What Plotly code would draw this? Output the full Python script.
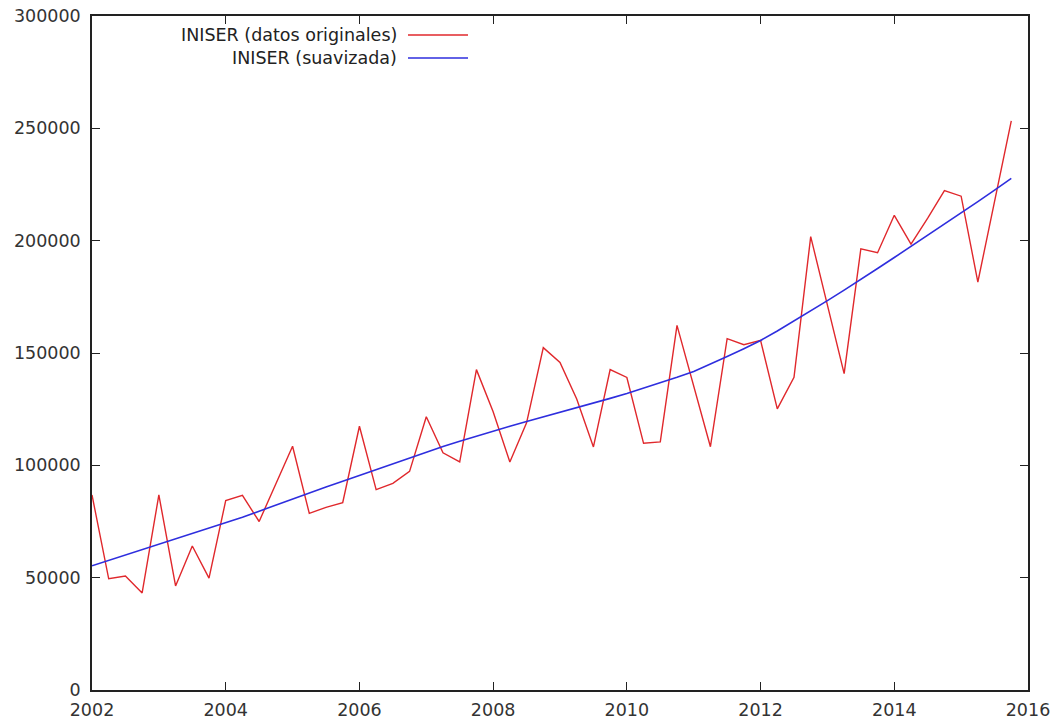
import plotly.graph_objects as go

# Quarterly periods 2002Q1 .. 2015Q4 (decimal years)
years = list(range(2002, 2016))
quarters = [0.0, 0.25, 0.5, 0.75]
periods = [y + q for y in years for q in quarters]

iniser_original = [
    86800, 49500, 50700, 43200,
    86800, 46300, 64100, 49800,
    84300, 86600, 75000, 92000,
    108500, 78600, 81300, 83400,
    117400, 89200, 92000, 97300,
    121600, 105600, 101500, 142600,
    123800, 101500, 118900, 152400,
    145800, 129500, 108200, 142600,
    139100, 109800, 110400, 162300,
    135500, 108300, 156400, 153700,
    155600, 125100, 139200, 201800,
    171300, 140800, 196400, 194600,
    211300, 198500, 210000, 222300,
    219800, 181600, 217500, 253300,
]

iniser_suavizada = [
    55300, 57700, 60100, 62500,
    64800, 67100, 69500, 71900,
    74200, 76900, 79600, 82300,
    85300, 87900, 90400, 92900,
    95500, 98100, 100800, 103400,
    106000, 108400, 110700, 113000,
    115300, 117400, 119500, 121500,
    123500, 125600, 127700, 129800,
    132000, 134300, 136700, 139200,
    141800, 145000, 148400, 151900,
    155600, 159800, 164200, 168700,
    173300, 178000, 182700, 187600,
    192500, 197400, 202300, 207300,
    212300, 217400, 222500, 227700,
]

series_names = ["INISER (datos originales)", "INISER (suavizada)"]
series_colors = ["#e0282c", "#2e2ede"]

x_ticks = [2002, 2004, 2006, 2008, 2010, 2012, 2014, 2016]
y_ticks = [0, 50000, 100000, 150000, 200000, 250000, 300000]

fig = go.Figure()
fig.add_trace(go.Scatter(x=periods, y=iniser_original, mode="lines",
                         name=series_names[0],
                         line=dict(color=series_colors[0], width=1.4)))
fig.add_trace(go.Scatter(x=periods, y=iniser_suavizada, mode="lines",
                         name=series_names[1],
                         line=dict(color=series_colors[1], width=1.6)))

axis_common = dict(
    showgrid=False, zeroline=False, showline=True, linecolor="#222",
    linewidth=1.5, mirror="ticks", ticks="inside", ticklen=8,
    tickwidth=1.2, tickcolor="#222", automargin=False,
    tickfont=dict(family="DejaVu Sans", size=17.5, color="#333"),
)

PL, PR, PT, PB = 92, 1028, 16, 690
W, H = 1058, 719

fig.update_layout(
    width=W, height=H,
    margin=dict(l=PL, r=W - PR, t=PT, b=H - PB, autoexpand=False),
    paper_bgcolor="white", plot_bgcolor="white",
    showlegend=False,
    xaxis=dict(range=[2002, 2016], tickvals=x_ticks,
               ticktext=[str(v) for v in x_ticks], ticklabelstandoff=3,
               **axis_common),
    yaxis=dict(range=[0, 300000], tickvals=y_ticks,
               ticktext=[str(v) for v in y_ticks], ticklabelstandoff=6,
               **axis_common),
)

# gnuplot-style key: right-aligned text with line sample to its right
legend_rows_y = [35, 58]  # pixel rows from top of page
for name, color, py in zip(series_names, series_colors, legend_rows_y):
    yp = 1 - (py - PT) / (PB - PT)
    x_text_end = (398 - PL) / (PR - PL)
    x_line0 = (408 - PL) / (PR - PL)
    x_line1 = (468 - PL) / (PR - PL)
    fig.add_annotation(x=x_text_end, y=yp, xref="paper", yref="paper",
                       text=name, showarrow=False, xanchor="right",
                       yanchor="middle", borderpad=0,
                       font=dict(family="DejaVu Sans", size=17.5, color="#222"))
    fig.add_shape(type="line", xref="paper", yref="paper",
                  x0=x_line0, x1=x_line1, y0=yp, y1=yp,
                  line=dict(color=color, width=1.5))

fig.write_html("out.html")
